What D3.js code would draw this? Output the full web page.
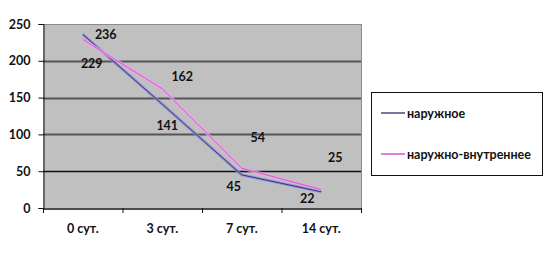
<!DOCTYPE html>
<html><head><meta charset="utf-8">
<script src="https://cdn.jsdelivr.net/npm/d3@7"></script>
<style>body{margin:0;background:#fff}svg{display:block}text{font-family:Lato,"Open Sans",sans-serif;font-weight:bold;font-size:12.5px;fill:#111}</style>
</head><body><svg id="c" width="545" height="253"></svg>
<script>
const categories = ["0 сут.", "3 сут.", "7 сут.", "14 сут."];
const seriesNames = ["наружное", "наружно-внутреннее"];
const outer = [236, 141, 45, 22];
const outerInner = [229, 162, 54, 25];
const yTicks = [0, 50, 100, 150, 200, 250];

const svg = d3.select("#c");
const m = {l: 43, r: 361, t: 24, b: 208};
const x = d3.scaleBand().domain(categories).range([m.l, m.r]);
const y = d3.scaleLinear().domain([0, 250]).range([m.b, m.t]);

svg.append("rect").attr("x", m.l).attr("y", m.t).attr("width", m.r - m.l).attr("height", m.b - m.t).attr("fill", "#c0c0c0");
// gridlines
svg.append("g").selectAll("line").data(yTicks.filter(d => d > 0)).join("line")
  .attr("x1", m.l).attr("x2", m.r).attr("y1", d => Math.round(y(d)) + 0.5).attr("y2", d => Math.round(y(d)) + 0.5)
  .attr("stroke", d => d === 250 ? "#8a8a8a" : (d === 50 ? "#111" : "#555")).attr("stroke-width", d => d === 250 ? 1 : (d === 50 ? 1.6 : 2));
svg.append("line").attr("x1", m.r + 0.5).attr("x2", m.r + 0.5).attr("y1", m.t).attr("y2", m.b).attr("stroke", "#8a8a8a");

// axes
const fontStyle = sel => sel.attr("fill", "#111").style("font-family", "Lato,sans-serif").style("font-weight", "bold").style("font-size", "12.5px");
const ya = d3.axisLeft(y).tickValues(yTicks).tickSize(5).tickPadding(8);
const gy = svg.append("g").attr("transform", `translate(${m.l + 0.5},0)`).call(ya);
gy.select(".domain").attr("stroke", "#111");
gy.selectAll(".tick line").attr("stroke", "#111");
fontStyle(gy.selectAll("text"));

const xa = d3.axisBottom(x).tickSize(0).tickPadding(16);
const gx = svg.append("g").attr("transform", `translate(0,${m.b + 0.5})`).call(xa);
gx.select(".domain").attr("stroke", "#111").attr("stroke-width", 1.5);
fontStyle(gx.selectAll("text"));
// category boundary ticks
const bounds = categories.map(c => x(c)).concat([m.r]);
svg.append("g").selectAll("line").data(bounds).join("line")
  .attr("x1", d => d + 0.5).attr("x2", d => d + 0.5).attr("y1", m.b).attr("y2", m.b + 5).attr("stroke", "#111");

const cx = c => x(c) + x.bandwidth() / 2;
const line = d3.line().x((d, i) => cx(categories[i])).y(d => y(d));
const series = [
  {vals: outer, core: "#34348a", halo: "#8c8cd0", legend: "#1a1a5a"},
  {vals: outerInner, core: "#e050d0", halo: "#e8a8ec", legend: "#e080e0"}
];
series.forEach(s => {
  svg.append("path").attr("d", line(s.vals)).attr("fill", "none").attr("stroke", s.halo).attr("stroke-width", 3).attr("opacity", 0.8);
  svg.append("path").attr("d", line(s.vals)).attr("fill", "none").attr("stroke", s.core).attr("stroke-width", 1);
});

// data labels (offsets relative to points)
const outerOff = [[23, 0], [5, 21], [-8, 12], [-14, 7]];
const innerOff = [[9, 24], [20, -12], [16, -31], [14, -32]];
const labels = [];
outer.forEach((v, i) => labels.push({v, x: cx(categories[i]) + outerOff[i][0], y: y(v) + outerOff[i][1]}));
outerInner.forEach((v, i) => labels.push({v, x: cx(categories[i]) + innerOff[i][0], y: y(v) + innerOff[i][1]}));
svg.append("g").selectAll("text").data(labels).join("text")
  .attr("x", d => d.x).attr("y", d => d.y).attr("text-anchor", "middle").attr("dominant-baseline", "central").text(d => d.v);

// legend
const lg = svg.append("g");
lg.append("rect").attr("x", 371.5).attr("y", 92.5).attr("width", 171).attr("height", 83).attr("fill", "#fff").attr("stroke", "#111");
const ly = [113, 154];
seriesNames.forEach((n, i) => {
  lg.append("line").attr("x1", 381).attr("x2", 405).attr("y1", ly[i]).attr("y2", ly[i]).attr("stroke", series[i].legend).attr("stroke-width", i ? 2 : 1.2);
  lg.append("text").attr("x", 407).attr("y", ly[i]).attr("dominant-baseline", "central").text(n);
});
</script></body></html>
